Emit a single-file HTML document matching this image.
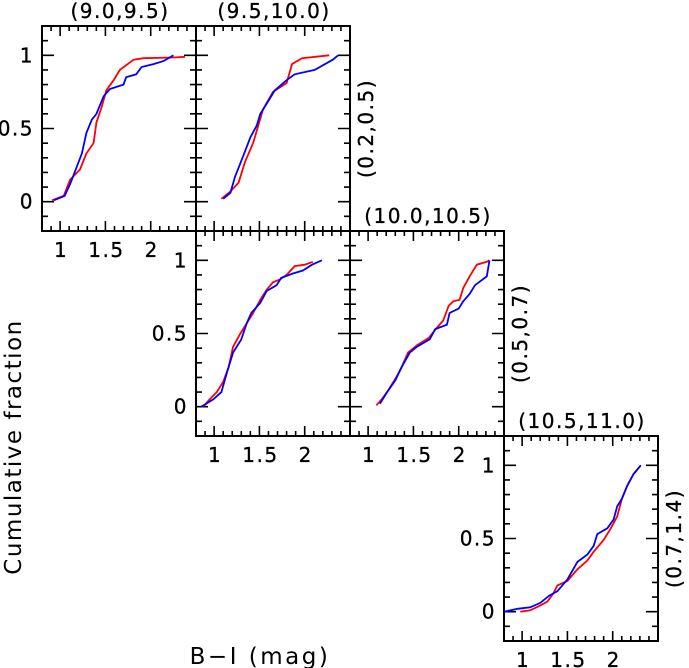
<!DOCTYPE html>
<html><head><meta charset="utf-8"><style>
body{margin:0;background:#fff}
svg{display:block;font-family:"DejaVu Sans","Liberation Sans",sans-serif}
</style></head><body>
<svg id="chart" width="689" height="668" viewBox="0 0 689 668" xmlns="http://www.w3.org/2000/svg"></svg>
<script>
const panelTitles = ["(9.0,9.5)","(9.5,10.0)","","(10.0,10.5)","(10.5,11.0)"];
const rowLabels = ["","(0.2,0.5)","","(0.5,0.7)","(0.7,1.4)"];
const xTickLabels = ["1","1.5","2"];
const xTickValues = [1,1.5,2];
const yTickLabels = ["0","0.5","1"];
const yTickValues = [0,0.5,1];
const redX = [
 [0.91,1.04,1.11,1.22,1.29,1.37,1.4,1.46,1.51,1.59,1.66,1.81,1.92,2.25,2.38],
 [1.08,1.18,1.27,1.34,1.43,1.54,1.65,1.8,1.86,1.97,2.27],
 [0.88,0.95,1.03,1.1,1.16,1.21,1.29,1.36,1.43,1.51,1.58,1.65,1.73,1.8,1.89,2.0,2.09],
 [1.09,1.15,1.22,1.31,1.37,1.44,1.54,1.67,1.76,1.83,1.89,1.94,2.01,2.05,2.12,2.2,2.31,2.34],
 [0.98,1.09,1.19,1.28,1.35,1.39,1.5,1.61,1.72,1.79,1.9,1.97,2.05,2.1,2.16,2.23,2.31]];
const redY = [
 [0.01,0.04,0.15,0.22,0.33,0.4,0.54,0.65,0.76,0.83,0.9,0.97,0.98,0.985,0.99],
 [0.02,0.07,0.13,0.27,0.4,0.63,0.75,0.81,0.94,0.98,1.0],
 [0,0.05,0.1,0.17,0.27,0.41,0.5,0.57,0.64,0.73,0.8,0.85,0.87,0.9,0.96,0.97,0.99],
 [0.01,0.05,0.11,0.2,0.27,0.37,0.42,0.47,0.54,0.59,0.69,0.72,0.73,0.81,0.89,0.97,0.99,1.0],
 [0,0.01,0.04,0.07,0.13,0.18,0.21,0.29,0.35,0.41,0.49,0.56,0.65,0.77,0.86,0.94,1.0]];
const blueX = [
 [0.93,1.05,1.11,1.16,1.24,1.29,1.35,1.4,1.48,1.55,1.7,1.73,1.84,1.9,2.03,2.14,2.25],
 [1.1,1.18,1.23,1.32,1.4,1.47,1.51,1.58,1.67,1.8,1.89,2.11,2.31,2.37],
 [0.86,0.99,1.08,1.14,1.21,1.3,1.36,1.41,1.51,1.58,1.69,1.74,1.87,1.98,2.08,2.19],
 [1.13,1.2,1.3,1.37,1.46,1.54,1.68,1.74,1.87,1.9,2.0,2.05,2.12,2.18,2.31,2.34],
 [0.8,0.95,1.09,1.2,1.3,1.39,1.5,1.61,1.72,1.79,1.83,1.94,2.01,2.05,2.1,2.16,2.23,2.31]];
const blueY = [
 [0.01,0.04,0.12,0.2,0.33,0.47,0.56,0.6,0.72,0.77,0.8,0.85,0.87,0.92,0.94,0.96,1.0],
 [0.02,0.06,0.17,0.31,0.44,0.52,0.6,0.67,0.76,0.83,0.87,0.9,0.97,1.0],
 [0,0.05,0.1,0.23,0.37,0.46,0.57,0.64,0.71,0.79,0.83,0.88,0.91,0.93,0.97,1.0],
 [0.02,0.09,0.18,0.27,0.37,0.41,0.46,0.53,0.56,0.64,0.67,0.72,0.77,0.83,0.89,1.0],
 [0,0.02,0.03,0.06,0.11,0.14,0.22,0.34,0.39,0.45,0.53,0.57,0.63,0.72,0.77,0.86,0.94,1.0]];

const NS="http://www.w3.org/2000/svg";
const svg=document.getElementById('chart');
const PW=154,PH=205,XMIN=0.8,XMAX=2.5,YMIN=-0.2,YMAX=1.2;
const panels=[{x:42,y:26,yl:true,xl:true},{x:196,y:26,yl:false,xl:false},{x:196,y:231,yl:true,xl:true},{x:350,y:231,yl:false,xl:true},{x:504,y:436,yl:true,xl:true}];
function mk(tag,attrs,parent){const e=document.createElementNS(NS,tag);for(const k in attrs)e.setAttribute(k,attrs[k]);(parent||svg).appendChild(e);return e;}
const TF={'font-size':20,'letter-spacing':1.5,stroke:'#000','stroke-width':0.3};
panels.forEach((p,i)=>{
 const g=mk('g',{});
 
 
 const sx=v=>p.x+(v-XMIN)/(XMAX-XMIN)*PW;
 const sy=v=>p.y+PH-(v-YMIN)/(YMAX-YMIN)*PH;
 let d='';
 for(let k=8;k<=25;k++){const v=k/10,X=sx(v),L=(k%5===0)?10:5;if(X<=p.x+0.5||X>=p.x+PW-0.5)continue;d+=`M${X} ${p.y+PH}v${-L}M${X} ${p.y}v${L}`;}
 for(let k=-2;k<=12;k++){const v=k/10,Y=sy(v),L=(k%5===0)?12:6;if(Y<=p.y+0.5||Y>=p.y+PH-0.5)continue;d+=`M${p.x} ${Y}h${L}M${p.x+PW} ${Y}h${-L}`;}
 const t=mk('path',{d:d,stroke:'#000','stroke-width':1.6,fill:'none'},g);
 
 
 const fr=mk('rect',{x:p.x,y:p.y,width:PW,height:PH,fill:'none',stroke:'#000','stroke-width':2},g);
 
 
 [[redX,redY,'#ff0000','red-series'],[blueX,blueY,'#0000ff','blue-series']].forEach(([xs,ys,c,n])=>{
  const pts=xs[i].map((v,j)=>sx(v).toFixed(1)+','+sy(ys[i][j]).toFixed(1)).join(' ');
  const pl=mk('polyline',{points:pts,fill:'none',stroke:c,'stroke-width':1.8},g);
  
  
 });
 if(p.xl){xTickValues.forEach((v,j)=>{const tx=mk('text',Object.assign({x:sx(v)+1,y:p.y+PH+26,'text-anchor':'middle'},TF),g);tx.textContent=xTickLabels[j];
  
  });}
 if(p.yl){yTickValues.forEach((v,j)=>{const tx=mk('text',Object.assign({x:p.x-8,y:sy(v)+7,'text-anchor':'end'},TF),g);tx.textContent=yTickLabels[j];
  
  });}
 if(panelTitles[i]){const tx=mk('text',Object.assign({x:p.x+PW/2+1,y:p.y-8,'text-anchor':'middle'},TF),g);tx.textContent=panelTitles[i];
  
  }
 if(rowLabels[i]){const cx=p.x+PW+23,cy=p.y+PH/2;const tx=mk('text',Object.assign({x:cx,y:cy,'text-anchor':'middle',transform:`rotate(-90 ${cx} ${cy})`},TF),g);tx.textContent=rowLabels[i];
  
  }
});
const yt=mk('text',{x:21,y:447,'text-anchor':'middle','font-size':23,'letter-spacing':1.5,transform:'rotate(-90 21 447)'});
yt.textContent='Cumulative fraction';


const xt=mk('text',{x:260,y:664,'text-anchor':'middle','font-size':23,'letter-spacing':2.5});
xt.textContent='B\u2212I (mag)';


</script>
</body></html>
